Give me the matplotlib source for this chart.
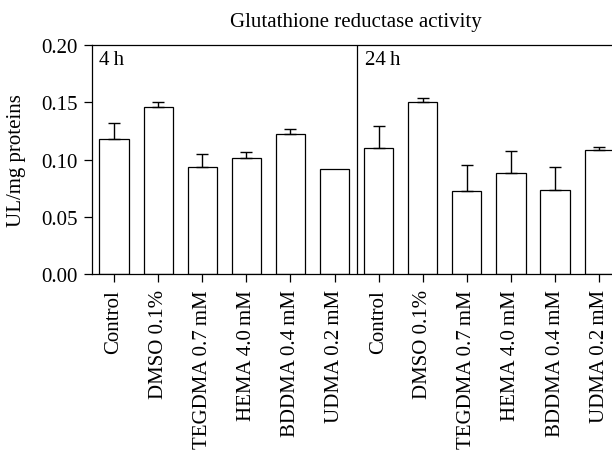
import numpy as np
import matplotlib
matplotlib.use('Agg')
import matplotlib.pyplot as plt

plt.rcParams['font.family'] = ['Liberation Serif', 'DejaVu Serif']

groups = ['Control', 'DMSO 0.1%', 'TEGDMA 0.7\u2009mM', 'HEMA 4.0\u2009mM',
          'BDDMA 0.4\u2009mM', 'UDMA 0.2\u2009mM']
mean_4h = [0.118, 0.146, 0.0935, 0.1015, 0.122, 0.0915]
err_4h = [0.014, 0.004, 0.0115, 0.005, 0.005, 0.0]
mean_24h = [0.110, 0.1505, 0.0725, 0.0885, 0.073, 0.108]
err_24h = [0.0195, 0.003, 0.023, 0.019, 0.0205, 0.0025]

labels = groups + groups
means = np.array(mean_4h + mean_24h)
errs = np.array(err_4h + err_24h)
x = np.arange(len(labels)) + 0.5

fs = 15

fig = plt.figure(figsize=(6.12, 4.52), dpi=100)
ax = fig.add_axes([92/612, 177/452, 520/612, 229/452])

ax.bar(x, means, width=0.66, color='white', edgecolor='black', linewidth=0.9)
has = errs > 0
ax.errorbar(x[has], means[has], yerr=[np.zeros(has.sum()), errs[has]],
            fmt='none', ecolor='black', elinewidth=1.0, capsize=4.5, capthick=1.0)
ax.axvline(6, color='black', linewidth=0.9)

ax.set_xlim(0, 520/44.1)
ax.set_ylim(0, 0.20)
ax.set_yticks([0.0, 0.05, 0.10, 0.15, 0.20])
ax.set_yticklabels(['%.2f' % v for v in [0.0, 0.05, 0.10, 0.15, 0.20]], fontsize=fs)
ax.set_xticks(x)
ax.set_xticklabels(labels, rotation=90, fontsize=fs)
ax.tick_params(axis='both', direction='out', length=6, width=0.9, color='black')
ax.tick_params(axis='x', pad=5)
ax.tick_params(axis='y', pad=4)
for s in ['left', 'top', 'bottom']:
    ax.spines[s].set_linewidth(0.9)
ax.spines['right'].set_visible(False)

ax.set_ylabel('UL/mg proteins', fontsize=fs)
ax.yaxis.set_label_coords(-66/520, 0.5)
ax.text(0.15, 0.196, '4\u2009h', fontsize=fs, va='top', ha='left')
ax.text(6.2, 0.196, '24\u2009h', fontsize=fs, va='top', ha='left')

fig.text(356/612, 1 - 22/452, 'Glutathione reductase activity', fontsize=fs,
         ha='center', va='center')

fig.savefig('out.png', dpi=100)
